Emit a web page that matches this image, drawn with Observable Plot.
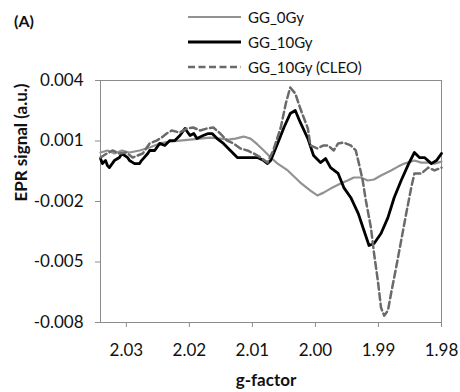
<!DOCTYPE html>
<html>
<head>
<meta charset="utf-8">
<script src="https://cdn.jsdelivr.net/npm/d3@7"></script>
<script src="https://cdn.jsdelivr.net/npm/@observablehq/plot@0.6"></script>
<style>
  html, body { margin: 0; padding: 0; background: #fff; }
  body { width: 460px; height: 392px; overflow: hidden; font-family: Lato, "Open Sans", sans-serif; }
  #head { position: relative; height: 56px; z-index: 2; }
  #tag { position: absolute; left: 14px; top: 11px; font-weight: bold; font-size: 16px; color: #111; }
  #legend { position: absolute; left: 188px; top: 4px; }
  .row { display: flex; align-items: center; height: 25px; font-size: 15px; color: #111; }
  .row svg { margin-right: 7px; }
  #chart { position: relative; z-index: 1; }
  #chart svg { background: transparent !important; }
</style>
</head>
<body>
<div id="head"><div id="tag">(A)</div><div id="legend"></div></div>
<div id="chart"></div>
<script>
// Series names
const seriesNames = ["GG_0Gy", "GG_10Gy", "GG_10Gy (CLEO)"];

// GG_0Gy
const g0 = [2.0341, 2.0330, 2.0319, 2.0307, 2.0295, 2.0279, 2.0263, 2.0247, 2.0231, 2.0215, 2.0199, 2.0183, 2.0167, 2.0151, 2.0138, 2.0127, 2.0114, 2.0103, 2.0092, 2.0082, 2.0071, 2.0060, 2.0044, 2.0024, 2.0008, 1.9997, 1.9987, 1.9976, 1.9960, 1.9949, 1.9939, 1.9928, 1.9917, 1.9907, 1.9896, 1.9880, 1.9869, 1.9859, 1.9843, 1.9832, 1.9821, 1.9811, 1.9800];
const v0 = [0.00043, 0.00053, 0.00038, 0.00053, 0.00043, 0.00053, 0.00068, 0.00088, 0.00097, 0.00102, 0.00107, 0.00112, 0.00117, 0.00112, 0.00107, 0.00112, 0.00122, 0.00112, 0.00083, 0.00053, 0.00018, -0.00012, -0.00046, -0.00106, -0.00146, -0.00170, -0.00156, -0.00136, -0.00111, -0.00096, -0.00081, -0.00081, -0.00096, -0.00091, -0.00071, -0.00046, -0.00027, -0.00012, 0.00003, -0.00007, -0.00007, -0.00012, -0.00002];

// GG_10Gy
const g1 = [2.0341, 2.0338, 2.0333, 2.0330, 2.0327, 2.0319, 2.0311, 2.0307, 2.0298, 2.0295, 2.0287, 2.0279, 2.0276, 2.0266, 2.0263, 2.0255, 2.0247, 2.0239, 2.0231, 2.0223, 2.0215, 2.0207, 2.0199, 2.0193, 2.0188, 2.0178, 2.0170, 2.0164, 2.0156, 2.0146, 2.0135, 2.0124, 2.0114, 2.0103, 2.0092, 2.0082, 2.0076, 2.0071, 2.0060, 2.0050, 2.0040, 2.0032, 2.0024, 2.0012, 2.0003, 1.9992, 1.9984, 1.9976, 1.9964, 1.9955, 1.9944, 1.9932, 1.9923, 1.9915, 1.9907, 1.9896, 1.9885, 1.9875, 1.9864, 1.9852, 1.9843, 1.9835, 1.9827, 1.9816, 1.9808, 1.9800];
const v1 = [0.00013, -0.00012, 0.00003, -0.00022, -0.00032, 0.00003, 0.00018, 0.00038, 0.00018, 0.00003, -0.00012, -0.00012, 0.00003, 0.00038, 0.00053, 0.00053, 0.00088, 0.00078, 0.00102, 0.00102, 0.00127, 0.00162, 0.00127, 0.00137, 0.00112, 0.00127, 0.00137, 0.00137, 0.00112, 0.00088, 0.00053, 0.00018, 0.00018, 0.00018, 0.00018, 0.00003, -0.00012, 0.00003, 0.00088, 0.00167, 0.00236, 0.00251, 0.00192, 0.00112, 0.00028, -0.00007, 0.00013, -0.00032, -0.00061, -0.00131, -0.00180, -0.00260, -0.00344, -0.00418, -0.00408, -0.00359, -0.00280, -0.00180, -0.00096, -0.00012, 0.00043, 0.00018, 0.00018, -0.00012, 0.00003, 0.00038];

// GG_10Gy (CLEO)
const g2 = [2.0341, 2.0331, 2.0322, 2.0311, 2.0300, 2.0290, 2.0282, 2.0274, 2.0263, 2.0252, 2.0244, 2.0236, 2.0228, 2.0215, 2.0204, 2.0194, 2.0183, 2.0172, 2.0162, 2.0151, 2.0140, 2.0130, 2.0119, 2.0108, 2.0098, 2.0087, 2.0076, 2.0067, 2.0055, 2.0047, 2.0040, 2.0032, 2.0024, 2.0012, 2.0008, 1.9997, 1.9987, 1.9980, 1.9971, 1.9964, 1.9955, 1.9944, 1.9936, 1.9931, 1.9925, 1.9920, 1.9912, 1.9907, 1.9901, 1.9896, 1.9891, 1.9885, 1.9880, 1.9872, 1.9864, 1.9856, 1.9848, 1.9843, 1.9832, 1.9821, 1.9811, 1.9800];
const v2 = [0.00018, 0.00038, 0.00053, 0.00038, 0.00043, 0.00018, 0.00028, 0.00038, 0.00088, 0.00102, 0.00117, 0.00137, 0.00152, 0.00142, 0.00162, 0.00167, 0.00152, 0.00162, 0.00167, 0.00137, 0.00102, 0.00088, 0.00063, 0.00053, 0.00038, 0.00018, -0.00007, 0.00053, 0.00167, 0.00286, 0.00365, 0.00336, 0.00261, 0.00162, 0.00078, 0.00063, 0.00078, 0.00078, 0.00053, 0.00088, 0.00092, 0.00078, 0.00053, -0.00012, -0.00096, -0.00195, -0.00329, -0.00458, -0.00592, -0.00726, -0.00766, -0.00741, -0.00656, -0.00528, -0.00394, -0.00260, -0.00131, -0.00061, -0.00061, -0.00032, -0.00046, -0.00032];

// Tick values
const xTicks = [2.03, 2.02, 2.01, 2.00, 1.99, 1.98];
const yTicks = [0.004, 0.001, -0.002, -0.005, -0.008];
const xDomain = [2.0341, 1.98];
const yDomain = [-0.008, 0.004];

const styles = [
  {stroke: "#929292", strokeWidth: 2.2, dash: null},
  {stroke: "#000000", strokeWidth: 2.8, dash: null},
  {stroke: "#6a6a6a", strokeWidth: 2.5, dash: "7,3.5"}
];

const toRows = (gs, vs) => gs.map((g, i) => ({g, v: vs[i]}));
const series = [toRows(g0, v0), toRows(g1, v1), toRows(g2, v2)];

// Legend
const legend = document.getElementById("legend");
seriesNames.forEach((name, i) => {
  const s = styles[i];
  const row = document.createElement("div");
  row.className = "row";
  row.innerHTML = `<svg width="53" height="6"><line x1="0" x2="53" y1="3" y2="3" stroke="${s.stroke}" stroke-width="${s.strokeWidth}" ${s.dash ? `stroke-dasharray="${s.dash}"` : ""}/></svg><span>${name}</span>`;
  legend.appendChild(row);
});

const axisColor = "#8c8c8c";
const chart = Plot.plot({
  width: 460,
  height: 336,
  marginTop: 24,
  marginLeft: 100,
  marginRight: 19,
  marginBottom: 70,
  style: {fontFamily: "Lato, 'Open Sans', sans-serif", fontSize: "17px", color: "#111", background: "transparent"},
  x: {domain: xDomain},
  y: {domain: yDomain},
  marks: [
    Plot.frame({stroke: axisColor}),
    Plot.axisX({ticks: xTicks, tickFormat: d => d.toFixed(2), tickSize: 5, tickPadding: 16, stroke: axisColor, fill: "#111", label: null, fontSize: 17}),
    Plot.axisY({ticks: yTicks, tickFormat: d => d.toFixed(3), tickSize: 5, tickPadding: 12, stroke: axisColor, fill: "#111", label: null, fontSize: 17}),
    ...series.map((data, i) => Plot.line(data, {
      x: "g", y: "v",
      stroke: styles[i].stroke,
      strokeWidth: styles[i].strokeWidth,
      strokeDasharray: styles[i].dash || undefined,
      strokeLinejoin: "round"
    })),
    Plot.text(["EPR signal (a.u.)"], {frameAnchor: "left", dx: -79, rotate: -90, fontWeight: "bold", fontSize: 17, fill: "#111", lineAnchor: "middle"}),
    Plot.text(["g-factor"], {frameAnchor: "bottom", dx: -5, dy: 58, fontWeight: "bold", fontSize: 17, fill: "#111", lineAnchor: "middle"})
  ]
});
document.getElementById("chart").appendChild(chart);
</script>
</body>
</html>
